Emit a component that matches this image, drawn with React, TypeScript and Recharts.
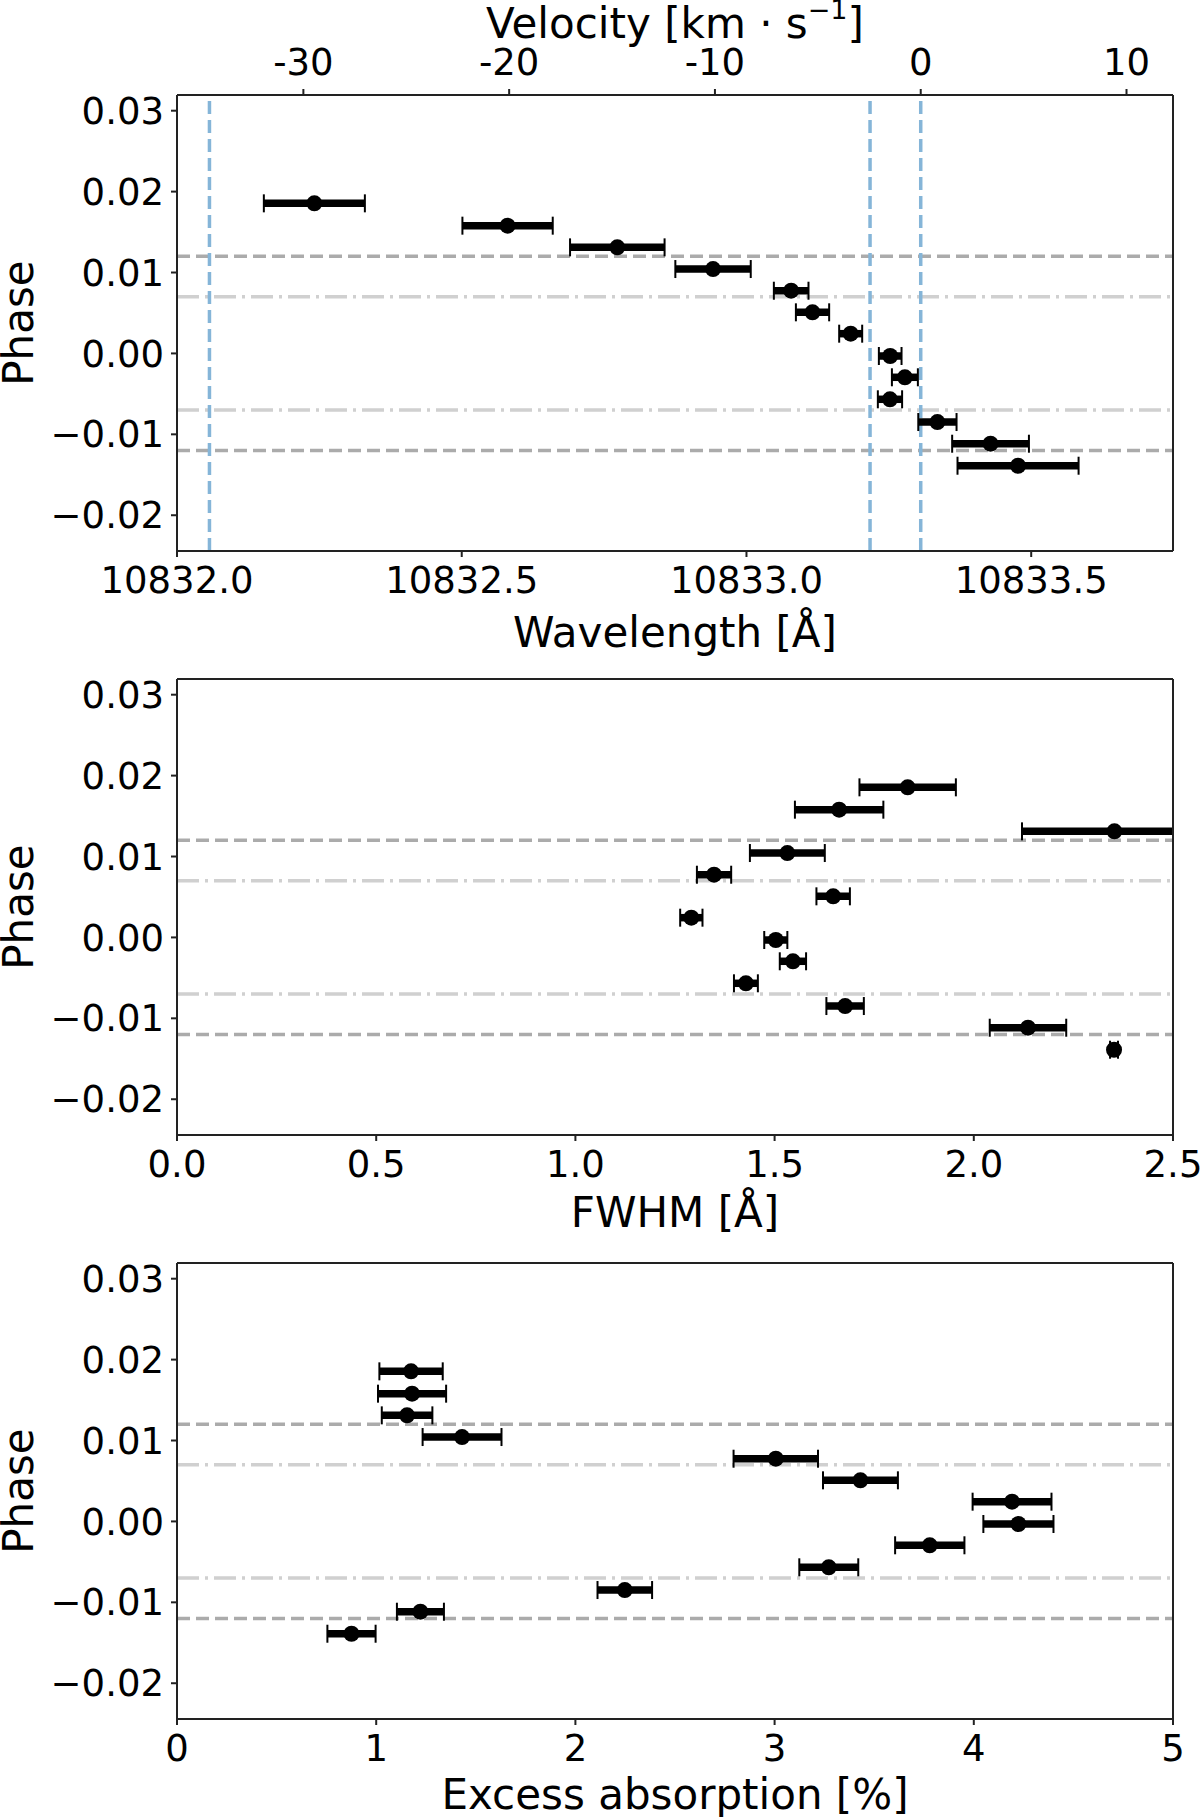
import React from 'react'
import { ScatterChart, Scatter, XAxis, YAxis, ErrorBar, ReferenceLine } from 'recharts'

// orbital phase of each spectrum, shared by all three panels
const phase = [0.01855, 0.01579, 0.01311, 0.01043, 0.00775, 0.00508, 0.00244, -0.00032, -0.00295, -0.00567, -0.00848, -0.01116, -0.01388]

// line centre [Å]
const wavelength = [10832.2412, 10832.5805, 10832.7732, 10832.9413, 10833.0785, 10833.116, 10833.183, 10833.2524, 10833.2782, 10833.252, 10833.3353, 10833.4286, 10833.4769]
const wavelengthErr = [0.0887, 0.0793, 0.083, 0.0662, 0.0304, 0.0292, 0.0202, 0.0199, 0.0228, 0.0213, 0.0336, 0.0674, 0.1063]

// FWHM [Å]
const fwhm = [1.834, 1.662, 2.353, 1.532, 1.348, 1.647, 1.291, 1.503, 1.546, 1.428, 1.677, 2.136, 2.352]
const fwhmErr = [0.121, 0.111, 0.232, 0.094, 0.043, 0.042, 0.028, 0.029, 0.033, 0.03, 0.047, 0.096, 0.01]

// excess absorption [%]
const absorption = [1.175, 1.18, 1.155, 1.431, 3.006, 3.431, 4.192, 4.224, 3.779, 3.272, 2.248, 1.222, 0.876]
const absorptionErr = [0.159, 0.171, 0.127, 0.198, 0.212, 0.188, 0.198, 0.176, 0.174, 0.148, 0.137, 0.118, 0.121]

// He I triplet rest wavelengths
const heLines = [10832.057, 10833.217, 10833.306]
// contact markers
const dashedPhases = [0.012, -0.012]
const dashDotPhases = [0.007, -0.007]

const phaseTicks = [-0.02, -0.01, 0, 0.01, 0.02, 0.03]
const phaseDomain = [-0.02442, 0.03194]
const wavelengthTicks = [10832.0, 10832.5, 10833.0, 10833.5]
const wavelengthDomain = [10832.0, 10833.749]
const velocityTicks = [-30, -20, -10, 0, 10]
const fwhmTicks = [0, 0.5, 1, 1.5, 2, 2.5]
const fwhmDomain = [0, 2.5]
const absorptionTicks = [0, 1, 2, 3, 4, 5]
const absorptionDomain = [0, 5]

const LAMBDA0 = 10833.306
const C_KMS = 299792.458
const toVelocity = (l: number) => ((l - LAMBDA0) / LAMBDA0) * C_KMS
const velocityDomain = wavelengthDomain.map(toVelocity)

const TOP = 95
const PLOT_H = 456
const PLOT_RIGHT = 1173
const AXIS = '#222'
const TICK_FONT = 37
const LABEL_FONT = 42

function fmtPhase(v: number) {
  return (v < 0 ? '\u2212' : '') + Math.abs(v).toFixed(2)
}

function Dot(props: any) {
  if (props.cx == null || props.cy == null) return null
  return <circle cx={props.cx} cy={props.cy} r={8} fill="#000" />
}

const NoDot = () => null

function VelocityLabel(props: any) {
  const vb = props.viewBox || { x: 177, width: 996, y: 0 }
  const cx = vb.x + vb.width / 2
  return (
    <text x={cx} y={vb.y + 38} textAnchor="middle" fontSize={LABEL_FONT} fill="#000">
      Velocity [km · s
      <tspan dy={-19} fontSize={27}>−1</tspan>
      <tspan dy={19}>]</tspan>
    </text>
  )
}

interface PanelProps {
  xs: number[]
  errs: number[]
  xDomain: number[]
  xTicks: number[]
  xFormat: (v: number) => string
  xLabel: string
  labelBaseline: number
  height: number
  velocity?: boolean
  vlines?: number[]
}

function Panel({ xs, errs, xDomain, xTicks, xFormat, xLabel, labelBaseline, height, velocity, vlines }: PanelProps) {
  const rows = phase.map((p, i) => ({ x: xs[i], y: p, err: errs[i] }))
  const velRows = phase.map((p, i) => ({ vx: toVelocity(xs[i]), y: p }))
  const bottomH = height - TOP - PLOT_H

  return (
    <div style={{ position: 'relative', width: 1200, height }}>
      <ScatterChart width={1200} height={height} margin={{ top: 0, right: 0, bottom: 0, left: 0 }}>
        {velocity ? (
          <XAxis
            xAxisId="top"
            dataKey="vx"
            orientation="top"
            type="number"
            domain={velocityDomain}
            ticks={velocityTicks}
            tickFormatter={(v: number) => String(v)}
            allowDataOverflow
            interval={0}
            height={TOP}
            stroke={AXIS}
            tickSize={6}
            tickMargin={14}
            tick={{ fontSize: TICK_FONT, fill: '#000' }}
            tickLine={{ strokeWidth: 2 }}
            axisLine={{ strokeWidth: 2 }}
            label={{ content: VelocityLabel }}
          />
        ) : (
          <XAxis
            xAxisId="top"
            orientation="top"
            type="number"
            domain={[0, 1]}
            height={TOP}
            stroke={AXIS}
            tick={false}
            tickLine={false}
            axisLine={{ strokeWidth: 2 }}
          />
        )}
        <XAxis
          xAxisId="main"
          dataKey="x"
          type="number"
          domain={xDomain}
          ticks={xTicks}
          tickFormatter={xFormat}
          allowDataOverflow
          interval={0}
          height={bottomH}
          stroke={AXIS}
          tickSize={6}
          tickMargin={10}
          tick={{ fontSize: TICK_FONT, fill: '#000' }}
          tickLine={{ strokeWidth: 2 }}
          axisLine={{ strokeWidth: 2 }}
          label={{ value: xLabel, position: 'insideBottom', offset: bottomH - labelBaseline, fontSize: LABEL_FONT, fill: '#000' }}
        />
        <YAxis
          yAxisId="main"
          dataKey="y"
          type="number"
          domain={phaseDomain}
          ticks={phaseTicks}
          tickFormatter={fmtPhase}
          allowDataOverflow
          interval={0}
          width={177}
          stroke={AXIS}
          tickSize={6}
          tickMargin={7}
          tick={{ fontSize: TICK_FONT, fill: '#000' }}
          tickLine={{ strokeWidth: 2 }}
          axisLine={{ strokeWidth: 2 }}
          label={{ value: 'Phase', angle: -90, position: 'insideLeft', offset: 18, fontSize: LABEL_FONT, fill: '#000', style: { textAnchor: 'middle' } }}
        />
        <YAxis
          yAxisId="right"
          orientation="right"
          type="number"
          domain={[0, 1]}
          width={1200 - PLOT_RIGHT}
          stroke={AXIS}
          tick={false}
          tickLine={false}
          axisLine={{ strokeWidth: 2 }}
        />

        {dashedPhases.map((p) => (
          <ReferenceLine key={'d' + p} y={p} xAxisId="main" yAxisId="main" stroke="#ababab" strokeWidth={3.5} strokeDasharray="13 6" />
        ))}
        {dashDotPhases.map((p) => (
          <ReferenceLine key={'dd' + p} y={p} xAxisId="main" yAxisId="main" stroke="#d0d0d0" strokeWidth={3.5} strokeDasharray="22 6 3 6" />
        ))}
        {(vlines || []).map((l) => (
          <ReferenceLine key={'v' + l} x={l} xAxisId="main" yAxisId="main" stroke="#85b5d8" strokeWidth={3.5} strokeDasharray="13 6" />
        ))}

        {velocity && (
          <Scatter data={velRows} xAxisId="top" yAxisId="main" isAnimationActive={false} shape={NoDot} />
        )}
        <Scatter data={rows} xAxisId="main" yAxisId="main" isAnimationActive={false} shape={Dot}>
          <ErrorBar dataKey="err" direction="x" width={0} strokeWidth={7.5} stroke="#000" isAnimationActive={false} />
          <ErrorBar dataKey="err" direction="x" width={9} strokeWidth={2} stroke="#000" isAnimationActive={false} />
        </Scatter>
      </ScatterChart>
      {/* error bars past the right spine are hidden, as in the figure */}
      <div
        style={{
          position: 'absolute', left: PLOT_RIGHT + 1, top: TOP + 2, width: 1200 - PLOT_RIGHT - 1,
          height: PLOT_H - 4, background: '#fff',
        }}
      />
    </div>
  )
}

export default function App() {
  return (
    <div
      style={{
        position: 'absolute', left: 0, top: 0, width: 1200, height: 1817,
        overflow: 'hidden', background: '#fff', fontFamily: "'DejaVu Sans', sans-serif",
      }}
    >
      <div style={{ position: 'absolute', left: 0, top: 0 }}>
        <Panel
          xs={wavelength} errs={wavelengthErr}
          xDomain={wavelengthDomain} xTicks={wavelengthTicks}
          xFormat={(v) => v.toFixed(1)}
          xLabel="Wavelength [Å]" labelBaseline={96} height={660}
          velocity vlines={heLines}
        />
      </div>
      <div style={{ position: 'absolute', left: 0, top: 583.5 }}>
        <Panel
          xs={fwhm} errs={fwhmErr}
          xDomain={fwhmDomain} xTicks={fwhmTicks}
          xFormat={(v) => v.toFixed(1)}
          xLabel="FWHM [Å]" labelBaseline={92} height={660}
        />
      </div>
      <div style={{ position: 'absolute', left: 0, top: 1167.5 }}>
        <Panel
          xs={absorption} errs={absorptionErr}
          xDomain={absorptionDomain} xTicks={absorptionTicks}
          xFormat={(v) => String(v)}
          xLabel="Excess absorption [%]" labelBaseline={90} height={649.5}
        />
      </div>
    </div>
  )
}
